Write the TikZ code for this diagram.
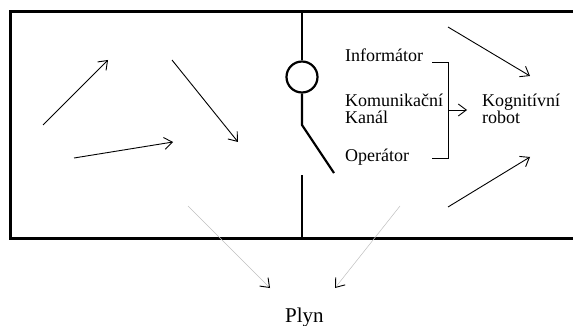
\documentclass[tikz,border=0pt]{standalone}
\usepackage{fontspec}
\setmainfont{Liberation Serif}
\usetikzlibrary{arrows.meta}
\begin{document}
\begin{tikzpicture}[x=1pt,y=-1pt,
  wall/.style={line width=3pt},
  part/.style={line width=2.2pt},
  lbl/.style={inner sep=0pt,anchor=base west,font=\fontsize{18}{17}\selectfont,align=left},
  mv/.style={line width=0.9pt,-{Straight Barb[length=8pt,width=12pt,line width=0.9pt]}},
  gas/.style={line width=0.5pt,draw=black!25,-{Straight Barb[length=8pt,width=12pt,line width=0.9pt,color=black]}},
  brk/.style={line width=0.9pt}]
\useasboundingbox (0,0) rectangle (573,326);
% walls
\coordinate (tl) at (10.5,12);
\coordinate (tr) at (573,12);
\coordinate (bl) at (10.5,238);
\coordinate (br) at (573,238);
\draw[wall] (tr) -- (tl) -- (bl) -- (br);
% partition with valve
\node[circle,draw,part,minimum size=31pt,inner sep=0pt] (valve) at (302,77) {};
\coordinate (ptop) at (302,12);
\coordinate (pmid) at (302,125);
\coordinate (pend) at (334,173);
\coordinate (plow) at (302,175);
\coordinate (pbot) at (302,238);
\draw[part] (ptop) -- (valve.north);
\draw[part] (valve.south) -- (pmid) -- (pend);
\draw[part] (plow) -- (pbot);
% labels
\node[lbl] (inf) at (345,62) {Informátor};
\node[lbl] (kom) at (345,124) {Komunikační\\Kanál};
\node[lbl] (op) at (345,161) {Operátor};
\node[lbl] (kog) at (482,124) {Kognitívní\\robot};
\node[lbl,font=\fontsize{21}{21}\selectfont] (plyn) at (285,322) {Plyn};
% bracket
\coordinate (b1) at (432,62);
\coordinate (b2) at (448,62);
\coordinate (b3) at (448,158);
\coordinate (b4) at (432,158);
\coordinate (bm) at (448,110);
\coordinate (ba) at (467,110);
\draw[brk] (b1) -- (b2) -- (b3) -- (b4);
\draw[mv] (bm) -- (ba);
% molecules left
\coordinate (m1a) at (43,125); \coordinate (m1b) at (108,60);
\coordinate (m2a) at (74,158); \coordinate (m2b) at (173,142);
\coordinate (m3a) at (172,60); \coordinate (m3b) at (238,142);
\draw[mv] (m1a) -- (m1b);
\draw[mv] (m2a) -- (m2b);
\draw[mv] (m3a) -- (m3b);
% molecules right
\coordinate (m4a) at (448,27); \coordinate (m4b) at (530,76);
\coordinate (m5a) at (448,207); \coordinate (m5b) at (530,157);
\draw[mv] (m4a) -- (m4b);
\draw[mv] (m5a) -- (m5b);
% gas arrows
\coordinate (g1) at (188,206);
\coordinate (g2) at (400,206);
\coordinate (g1e) at (270,288);
\coordinate (g2e) at (335,288);
\draw[gas] (g1) -- (g1e);
\draw[gas] (g2) -- (g2e);
\end{tikzpicture}
\end{document}
